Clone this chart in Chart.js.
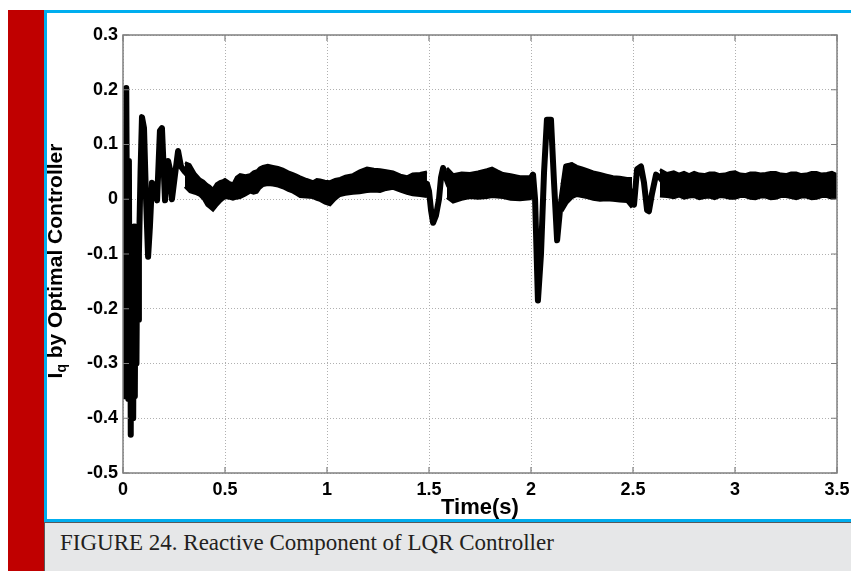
<!DOCTYPE html>
<html><head><meta charset="utf-8">
<script src="https://cdn.jsdelivr.net/npm/chart.js@4.4.0/dist/chart.umd.min.js"></script>
<style>
html,body{margin:0;padding:0;background:#fff;width:851px;height:571px;overflow:hidden;position:relative}
.abs{position:absolute}
#red{left:8px;top:10px;width:36px;height:561px;background:#c00000}
#cTop{left:44px;top:10px;width:807px;height:3px;background:#00aeef}
#cLeft{left:44px;top:10px;width:3px;height:512px;background:#00aeef}
#cBot{left:44px;top:519px;width:807px;height:3px;background:#00aeef}
#cap{left:44px;top:522px;width:807px;height:49px;background:#e6e7e8;border-top:1px solid #58595b;border-left:1px solid #58595b;box-sizing:border-box}
#capText{left:60px;top:530px;font-family:"Liberation Serif",serif;font-size:23px;color:#231f20;white-space:nowrap}
#wrap{left:47px;top:13px;width:804px;height:506px}
</style></head>
<body>
<div id="red" class="abs"></div>
<div id="cTop" class="abs"></div>
<div id="cLeft" class="abs"></div>
<div id="cBot" class="abs"></div>
<div id="cap" class="abs"></div>
<div id="capText" class="abs">FIGURE 24. Reactive Component of LQR Controller</div>
<div id="wrap" class="abs"><canvas id="c" width="804" height="506"></canvas></div>
<script>
// ---- data ----
const xTickValues = [0, 0.5, 1, 1.5, 2, 2.5, 3, 3.5];
const xTickLabels = ['0', '0.5', '1', '1.5', '2', '2.5', '3', '3.5'];
const yTickValues = [-0.5, -0.4, -0.3, -0.2, -0.1, 0, 0.1, 0.2, 0.3];
const yTickLabels = ['-0.5', '-0.4', '-0.3', '-0.2', '-0.1', '0', '0.1', '0.2', '0.3'];

// transient parts of the trace (null = break)
const traceTime = [0.000,0.003,0.006,0.009,0.012,0.016,0.020,0.023,0.026,0.029,0.032,0.035,0.038,0.041,0.044,0.047,0.050,0.054,0.058,0.062,0.066,0.070,0.074,0.078,0.086,0.093,0.103,0.113,0.123,0.132,0.142,0.157,0.167,0.181,0.191,0.206,0.221,0.230,0.240,0.255,0.270,0.284,0.304,0.328,
  0.5,
  1.475,1.490,1.500,1.510,1.520,1.534,1.549,1.559,1.569,1.583,1.598,
  1.8,
  1.985,2.010,2.020,2.034,2.049,2.064,2.078,2.098,2.113,2.128,2.142,2.157,2.172,2.196,2.216,2.235,
  2.4,
  2.480,2.495,2.505,2.520,2.539,2.554,2.569,2.578,2.593,2.613,2.632,2.652];
const traceValue = [0.0,0.095,-0.36,0.0,-0.2,0.203,-0.1,0.07,-0.365,0.07,-0.30,-0.05,-0.43,-0.06,-0.34,-0.06,-0.40,-0.05,-0.36,-0.05,-0.30,-0.06,-0.22,-0.10,0.05,0.15,0.13,0.0,-0.105,-0.05,0.03,0.02,-0.002,0.125,0.13,-0.002,0.07,0.055,0.0,0.045,0.088,0.06,0.05,0.04,
  null,
  0.03,0.028,0.015,-0.02,-0.043,-0.03,0.0,0.04,0.057,0.04,0.025,
  null,
  0.025,0.045,0.0,-0.185,-0.10,0.05,0.145,0.145,0.03,-0.075,-0.02,0.02,0.06,0.062,0.045,0.03,
  null,
  0.02,0.005,-0.01,0.055,0.06,0.03,-0.02,-0.022,0.01,0.045,0.04,0.03];

// ripple band (upper / lower edge) of the steady parts
const bandTime = [0.304,0.328,0.353,0.377,0.395,0.412,0.425,0.441,0.458,0.475,0.49,0.5,0.52,0.539,0.556,0.574,0.6,0.623,0.64,0.657,0.67,0.686,0.71,0.735,0.76,0.784,0.81,0.833,0.85,0.868,0.9,0.931,0.95,0.966,0.99,1.015,1.04,1.064,1.09,1.127,1.16,1.196,1.23,1.26,1.29,1.324,1.36,1.392,1.42,1.456,1.49,
  1.54,
  1.588,1.618,1.66,1.701,1.74,1.784,1.809,1.835,1.863,1.9,1.946,1.995,2.005,
  2.08,
  2.152,2.176,2.201,2.225,2.25,2.275,2.305,2.338,2.37,2.402,2.435,2.471,2.495,
  2.56,
  2.632,2.667,2.7,2.725,2.75,2.775,2.8,2.825,2.85,2.875,2.9,2.925,2.95,2.975,3.0,3.025,3.05,3.075,3.1,3.125,3.15,3.175,3.2,3.225,3.25,3.275,3.3,3.325,3.35,3.375,3.4,3.425,3.45,3.475,3.5];
const bandHigh = [0.067,0.063,0.047,0.037,0.033,0.027,0.024,0.018,0.028,0.032,0.034,0.036,0.031,0.028,0.04,0.045,0.043,0.045,0.05,0.052,0.057,0.06,0.062,0.06,0.058,0.055,0.05,0.047,0.044,0.041,0.036,0.032,0.036,0.035,0.033,0.032,0.036,0.038,0.042,0.045,0.052,0.057,0.055,0.054,0.052,0.05,0.044,0.041,0.046,0.047,0.05,
  null,
  0.057,0.045,0.048,0.047,0.05,0.054,0.057,0.052,0.047,0.045,0.041,0.041,0.047,
  null,
  0.027,0.062,0.065,0.06,0.057,0.054,0.05,0.047,0.044,0.041,0.04,0.038,0.038,
  null,
  0.054,0.047,0.05,0.046,0.049,0.045,0.049,0.046,0.045,0.048,0.048,0.045,0.046,0.049,0.05,0.046,0.045,0.048,0.048,0.046,0.047,0.049,0.049,0.046,0.045,0.048,0.048,0.045,0.046,0.049,0.049,0.046,0.047,0.049,0.045];
const bandLow = [0.023,0.014,0.011,0.007,0.0,-0.011,-0.015,-0.02,-0.012,-0.005,0.0,0.003,0.002,0.0,0.002,0.003,0.008,0.013,0.011,0.013,0.02,0.025,0.027,0.026,0.024,0.021,0.016,0.013,0.009,0.005,0.004,0.003,0.0,-0.002,-0.007,-0.01,0.0,0.007,0.009,0.011,0.012,0.014,0.015,0.014,0.018,0.02,0.015,0.011,0.008,0.007,0.005,
  null,
  0.003,-0.005,0.0,0.003,0.002,0.003,0.005,0.004,0.003,0.0,-0.001,0.001,0.003,
  null,
  -0.022,-0.007,0.003,0.007,0.005,0.003,0.0,-0.002,-0.001,-0.002,-0.003,-0.004,-0.015,
  null,
  0.006,0.005,0.003,0.006,0.002,0.004,0.005,0.001,0.003,0.004,0.001,0.005,0.004,0.002,0.002,0.005,0.005,0.002,0.001,0.004,0.004,0.001,0.002,0.005,0.005,0.003,0.001,0.004,0.004,0.001,0.002,0.005,0.005,0.002,0.003];

const pts = (xs, ys) => xs.map((x, i) => ({x: x, y: ys[i]}));

const FONT = '"Liberation Sans", Arial, sans-serif';

const framePlugin = {
  id: 'frame',
  afterDatasetsDraw(chart) {
    const {ctx, chartArea: a, scales: {x, y}} = chart;
    ctx.save();
    ctx.strokeStyle = '#808080';
    ctx.lineWidth = 1.5;
    ctx.strokeRect(a.left, a.top, a.right - a.left, a.bottom - a.top);
    ctx.lineWidth = 1.2;
    const tl = 6;
    xTickValues.forEach(v => {
      const px = x.getPixelForValue(v);
      ctx.beginPath();
      ctx.moveTo(px, a.bottom); ctx.lineTo(px, a.bottom - tl);
      ctx.moveTo(px, a.top); ctx.lineTo(px, a.top + tl);
      ctx.stroke();
    });
    yTickValues.forEach(v => {
      const py = y.getPixelForValue(v);
      ctx.beginPath();
      ctx.moveTo(a.left, py); ctx.lineTo(a.left + tl, py);
      ctx.moveTo(a.right, py); ctx.lineTo(a.right - tl, py);
      ctx.stroke();
    });
    ctx.restore();
  },
  afterDraw(chart) {
    const {ctx} = chart;
    ctx.save();
    ctx.fillStyle = '#000';
    const big = 'bold 21px ' + FONT, small = 'bold 14px ' + FONT;
    ctx.font = big; const w1 = ctx.measureText('I').width;
    ctx.font = small; const w2 = ctx.measureText('q').width;
    ctx.font = big; const w3 = ctx.measureText(' by Optimal Controller').width;
    const total = w1 + w2 + w3;
    const cy = 248, bx = 15;
    ctx.translate(bx, cy);
    ctx.rotate(-Math.PI / 2);
    ctx.textBaseline = 'alphabetic';
    ctx.textAlign = 'left';
    let sx = -total / 2;
    ctx.font = big; ctx.fillText('I', sx, 0); sx += w1;
    ctx.font = small; ctx.fillText('q', sx, 4); sx += w2;
    ctx.font = big; ctx.fillText(' by Optimal Controller', sx, 0);
    ctx.restore();
  }
};

new Chart(document.getElementById('c'), {
  type: 'line',
  data: {
    datasets: [
      {data: pts(bandTime, bandHigh), borderColor: '#000', backgroundColor: '#000', borderWidth: 3, pointRadius: 0, fill: false, spanGaps: false, tension: 0},
      {data: pts(bandTime, bandLow), borderColor: '#000', backgroundColor: '#000', borderWidth: 3, pointRadius: 0, fill: '-1', spanGaps: false, tension: 0},
      {data: pts(traceTime, traceValue), borderColor: '#000', borderWidth: 6, pointRadius: 0, fill: false, spanGaps: false, tension: 0, borderJoinStyle: 'round', borderCapStyle: 'round'}
    ]
  },
  options: {
    responsive: false,
    animation: false,
    events: [],
    layout: {padding: {top: 22, right: 14, left: 0, bottom: 0}},
    plugins: {legend: {display: false}, tooltip: {enabled: false}},
    scales: {
      x: {
        type: 'linear', min: 0, max: 3.5,
        afterFit: s => { s.height = 46; s.paddingLeft = 0; s.paddingRight = 0; },
        afterBuildTicks: s => { s.ticks = xTickValues.map(v => ({value: v})); },
        ticks: {autoSkip: false, maxRotation: 0, padding: 6, color: '#000',
          font: {family: FONT, size: 18, weight: 'bold'},
          callback: (v, i) => xTickLabels[i]},
        grid: {color: '#b0b0b0', lineWidth: 1, drawTicks: false},
        border: {display: false, dash: [1, 2]},
        title: {display: true, text: 'Time(s)', color: '#000', font: {family: FONT, size: 22, weight: 'bold', lineHeight: 1.0}, padding: {top: 0, bottom: 0}}
      },
      y: {
        type: 'linear', min: -0.5, max: 0.3,
        afterFit: s => { s.width = 76; s.paddingTop = 0; s.paddingBottom = 0; },
        afterBuildTicks: s => { s.ticks = yTickValues.map(v => ({value: v})); },
        ticks: {autoSkip: false, padding: 5, color: '#000',
          font: {family: FONT, size: 18, weight: 'bold'},
          callback: (v, i) => yTickLabels[i]},
        grid: {color: '#b0b0b0', lineWidth: 1, drawTicks: false},
        border: {display: false, dash: [1, 2]}
      }
    }
  },
  plugins: [framePlugin]
});
</script>
</body></html>
